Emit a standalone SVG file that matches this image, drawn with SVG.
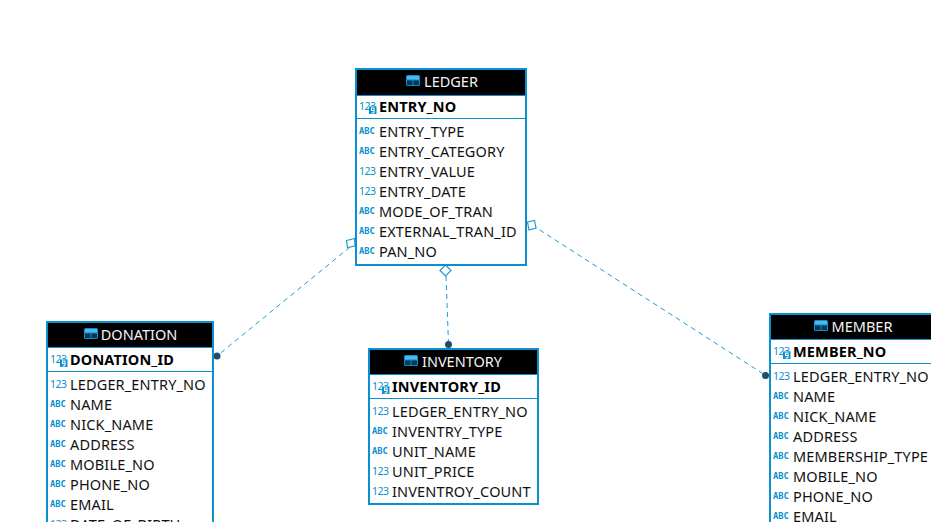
<svg xmlns="http://www.w3.org/2000/svg" width="931" height="522" viewBox="0 0 931 522">
<style>
text{font-family:"Noto Sans","Open Sans","DejaVu Sans",sans-serif}
.box{fill:#fff;stroke:#0a8fcf;stroke-width:2}
.hd{fill:#000}
.sep{stroke:#0a8fcf;stroke-width:1}
.hdline{stroke:#0a8fcf;stroke-width:1}
.t{font-size:14.5px;letter-spacing:.15px;fill:#111}
.id{font-size:14.5px;letter-spacing:.15px;font-weight:700;fill:#000}
.title{font-size:14.5px;fill:#f4f4f4;text-anchor:middle}
.abc{font-size:8.8px;font-weight:700;fill:#0a8fcf;font-family:"DejaVu Sans Mono","Liberation Mono",monospace}
.num{font-size:10.5px;letter-spacing:-.5px;fill:#0a8fcf}
.rel{fill:none;stroke:#1f9ad6;stroke-width:1;stroke-dasharray:5 4}
.dia{fill:#fff;stroke:#1f9ad6;stroke-width:1.2}
.dot{fill:#1f4e6b}
.ic2{fill:#0a8fcf}
</style>
<defs>
<g id="tbl"><rect x="0" y="0" width="14" height="11" rx="1.5" class="ic2"/><rect x="1" y="1" width="12" height="3.500" fill="#4fb8ea"/><rect x="1" y="5.500" width="5.500" height="4.500" fill="#0b3550"/><rect x="7.500" y="5.500" width="5.500" height="4.500" fill="#0b3550"/></g>
<g id="key"><rect x="0" y="0" width="7.500" height="7.500" class="ic2"/><rect x="2.500" y="1.500" width="2.500" height="2.500" fill="none" stroke="#fff" stroke-width="1"/><path d="M5 4V6.500H2.500" fill="none" stroke="#fff" stroke-width="1"/></g>
</defs>
<g id="connectors">
<path class="rel" d="M350 247L217 356"/>
<path class="dia" d="M346.500 240.500L354.500 238.500L355 246L347.500 247.500Z"/>
<circle class="dot" cx="217" cy="356" r="3.500"/>
<path class="rel" d="M446 276L448.500 344"/>
<path class="dia" d="M445.500 265L451 270.500L445.500 276L440 270.500Z"/>
<circle class="dot" cx="448.500" cy="344.500" r="3.500"/>
<path class="rel" d="M532 225L765 375"/>
<path class="dia" d="M527.500 222L534.500 220.500L536 228L529 230Z"/>
<circle class="dot" cx="765.500" cy="375.500" r="3.500"/>
</g>
<g id="ledger">
<rect class="box" x="356" y="69" width="170" height="196"/>
<rect class="hd" x="357" y="70" width="168" height="25"/>
<line class="hdline" x1="357" y1="95.500" x2="525" y2="95.500"/>
<use href="#tbl" x="406" y="75"/>
<text class="title" x="451" y="87">LEDGER</text>
<text class="num" x="359" y="110">123</text><use href="#key" x="369" y="106.500"/>
<text class="id" x="379" y="112">ENTRY_NO</text>
<line class="sep" x1="357" y1="118.500" x2="525" y2="118.500"/>
<text class="abc" x="359" y="134">ABC</text><text class="t" x="379" y="137">ENTRY_TYPE</text>
<text class="abc" x="359" y="154">ABC</text><text class="t" x="379" y="157">ENTRY_CATEGORY</text>
<text class="num" x="359" y="175">123</text><text class="t" x="379" y="177">ENTRY_VALUE</text>
<text class="num" x="359" y="195">123</text><text class="t" x="379" y="197">ENTRY_DATE</text>
<text class="abc" x="359" y="214">ABC</text><text class="t" x="379" y="217">MODE_OF_TRAN</text>
<text class="abc" x="359" y="234">ABC</text><text class="t" x="379" y="237">EXTERNAL_TRAN_ID</text>
<text class="abc" x="359" y="254">ABC</text><text class="t" x="379" y="257">PAN_NO</text>
</g>
<g id="donation">
<rect class="box" x="47" y="322" width="166" height="220"/>
<rect class="hd" x="48" y="323" width="164" height="24"/>
<line class="hdline" x1="48" y1="347.500" x2="212" y2="347.500"/>
<use href="#tbl" x="84" y="328"/>
<text class="title" x="139" y="340">DONATION</text>
<text class="num" x="50" y="363">123</text><use href="#key" x="60" y="359.500"/>
<text class="id" x="70" y="365">DONATION_ID</text>
<line class="sep" x1="48" y1="371.500" x2="212" y2="371.500"/>
<text class="num" x="50" y="388">123</text><text class="t" x="70" y="390">LEDGER_ENTRY_NO</text>
<text class="abc" x="50" y="407">ABC</text><text class="t" x="70" y="410">NAME</text>
<text class="abc" x="50" y="427">ABC</text><text class="t" x="70" y="430">NICK_NAME</text>
<text class="abc" x="50" y="447">ABC</text><text class="t" x="70" y="450">ADDRESS</text>
<text class="abc" x="50" y="467">ABC</text><text class="t" x="70" y="470">MOBILE_NO</text>
<text class="abc" x="50" y="487">ABC</text><text class="t" x="70" y="490">PHONE_NO</text>
<text class="abc" x="50" y="507">ABC</text><text class="t" x="70" y="510">EMAIL</text>
<text class="num" x="50" y="528">123</text><text class="t" x="70" y="530">DATE_OF_BIRTH</text>
</g>
<g id="inventory">
<rect class="box" x="369" y="349" width="169" height="155"/>
<rect class="hd" x="370" y="350" width="167" height="24"/>
<line class="hdline" x1="370" y1="374.500" x2="537" y2="374.500"/>
<use href="#tbl" x="404" y="355"/>
<text class="title" x="462" y="367">INVENTORY</text>
<text class="num" x="372" y="390">123</text><use href="#key" x="382" y="386.500"/>
<text class="id" x="392" y="392">INVENTORY_ID</text>
<line class="sep" x1="370" y1="398.500" x2="537" y2="398.500"/>
<text class="num" x="372" y="415">123</text><text class="t" x="392" y="417">LEDGER_ENTRY_NO</text>
<text class="abc" x="372" y="434">ABC</text><text class="t" x="392" y="437">INVENTRY_TYPE</text>
<text class="abc" x="372" y="454">ABC</text><text class="t" x="392" y="457">UNIT_NAME</text>
<text class="num" x="372" y="475">123</text><text class="t" x="392" y="477">UNIT_PRICE</text>
<text class="num" x="372" y="495">123</text><text class="t" x="392" y="497">INVENTROY_COUNT</text>
</g>
<g id="member">
<rect class="box" x="770" y="314" width="180" height="230"/>
<rect class="hd" x="771" y="315" width="170" height="24"/>
<line class="hdline" x1="771" y1="339.500" x2="931" y2="339.500"/>
<use href="#tbl" x="814" y="320"/>
<text class="title" x="862" y="332">MEMBER</text>
<text class="num" x="773" y="355">123</text><use href="#key" x="783" y="351.500"/>
<text class="id" x="793" y="357">MEMBER_NO</text>
<line class="sep" x1="771" y1="363.500" x2="931" y2="363.500"/>
<text class="num" x="773" y="380">123</text><text class="t" x="793" y="382">LEDGER_ENTRY_NO</text>
<text class="abc" x="773" y="399">ABC</text><text class="t" x="793" y="402">NAME</text>
<text class="abc" x="773" y="419">ABC</text><text class="t" x="793" y="422">NICK_NAME</text>
<text class="abc" x="773" y="439">ABC</text><text class="t" x="793" y="442">ADDRESS</text>
<text class="abc" x="773" y="459">ABC</text><text class="t" x="793" y="462">MEMBERSHIP_TYPE</text>
<text class="abc" x="773" y="479">ABC</text><text class="t" x="793" y="482">MOBILE_NO</text>
<text class="abc" x="773" y="499">ABC</text><text class="t" x="793" y="502">PHONE_NO</text>
<text class="abc" x="773" y="519">ABC</text><text class="t" x="793" y="522">EMAIL</text>
</g>
</svg>
